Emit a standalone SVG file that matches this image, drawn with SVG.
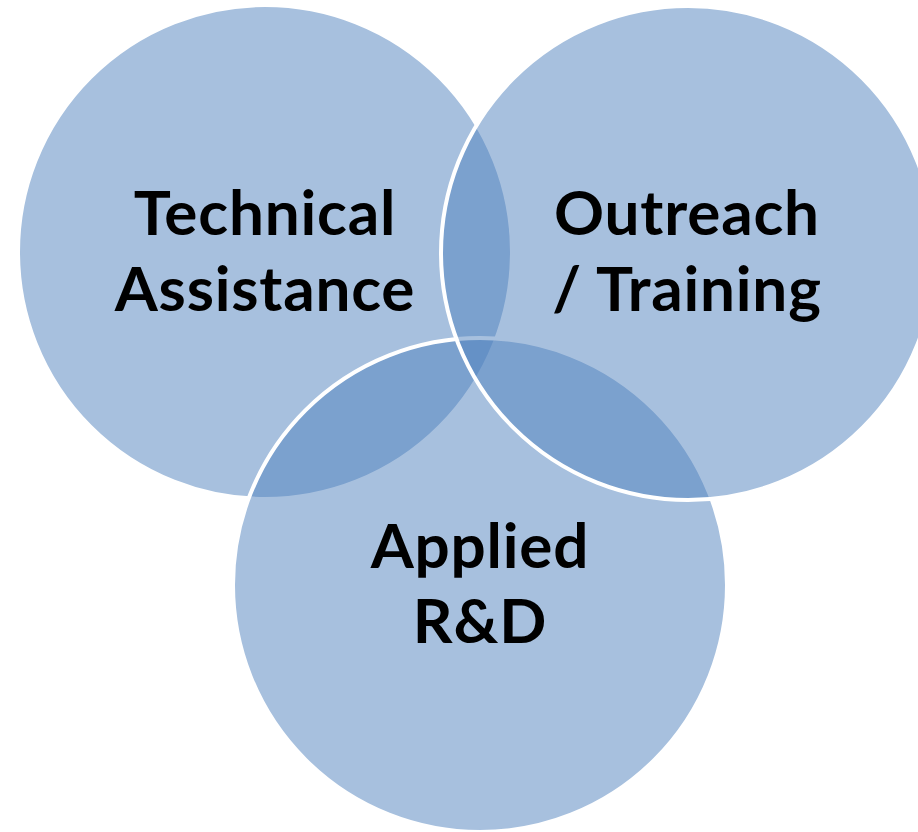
<svg xmlns="http://www.w3.org/2000/svg" width="918" height="832" viewBox="0 0 918 832">
<style>
.c{fill:#4F81BD;fill-opacity:0.5;stroke:#FFFFFF;stroke-width:4}
.t{font-family:Lato,"Liberation Sans",sans-serif;font-weight:bold;font-size:62px;letter-spacing:0.8px;fill:#000;text-anchor:middle}
</style>
<rect width="918" height="832" fill="#FFFFFF"/>
<g id="technical-assistance">
<circle class="c" cx="265" cy="252" r="247"/>
</g>
<g id="applied-rd">
<circle class="c" cx="480" cy="585" r="247"/>
</g>
<g id="outreach-training">
<circle class="c" cx="688" cy="253" r="247"/>
</g>
<g id="labels">
<text class="t" x="265" y="235">Technical</text>
<text class="t" x="265" y="311">Assistance</text>
<text class="t" x="687" y="235">Outreach</text>
<text class="t" x="687" y="311">/ Training</text>
<text class="t" x="480" y="568">Applied</text>
<text class="t" x="480" y="643">R&amp;D</text>
</g>
<g id="connectors"/>
</svg>
